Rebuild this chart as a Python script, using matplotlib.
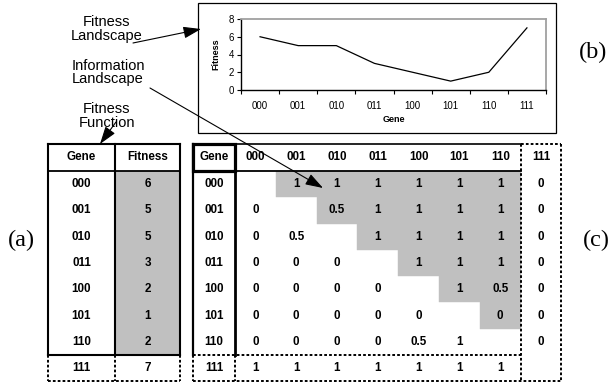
import numpy as np
import matplotlib
matplotlib.use('Agg')
import matplotlib.pyplot as plt
from matplotlib.patches import Rectangle

# ---------------- data ----------------
genes = ['000', '001', '010', '011', '100', '101', '110', '111']
fitness = [6, 5, 5, 3, 2, 1, 2, 7]
# information landscape matrix (row gene vs column gene); None = blank diagonal
info = [
    [None, 1, 1, 1, 1, 1, 1, 0],
    [0, None, 0.5, 1, 1, 1, 1, 0],
    [0, 0.5, None, 1, 1, 1, 1, 0],
    [0, 0, 0, None, 1, 1, 1, 0],
    [0, 0, 0, 0, None, 1, 0.5, 0],
    [0, 0, 0, 0, 0, None, 0, 0],
    [0, 0, 0, 0, 0.5, 1, None, 0],
    [1, 1, 1, 1, 1, 1, 1, None],
]
yticks = [0, 2, 4, 6, 8]

# ---------------- layout ----------------
W, H = 611, 388
SANS = 'Liberation Sans'
SERIF = 'Liberation Serif'
GRAY = '#c0c0c0'

fig = plt.figure(figsize=(W / 100, H / 100), dpi=100)
ax = fig.add_axes([0, 0, 1, 1])
ax.set_xlim(0, W)
ax.set_ylim(H, 0)
ax.axis('off')

TOP, HB = 144, 171
ROW_H = (355 - HB) / 7
n = len(genes)
row_edges = [HB + i * ROW_H for i in range(n + 1)]
row_centers = [(row_edges[i] + row_edges[i + 1]) / 2 for i in range(n)]
SOLID_BOT = row_edges[7]
BOT = row_edges[8]

dash = (0, (1.4, 1.1))


def hline(x0, x1, y, lw=1.3, ls='-'):
    ax.plot([x0, x1], [y, y], color='black', lw=lw, ls=ls, solid_capstyle='projecting')


def vline(x, y0, y1, lw=1.3, ls='-'):
    ax.plot([x, x], [y0, y1], color='black', lw=lw, ls=ls, solid_capstyle='projecting')


def cell_text(x, y, s):
    ax.text(x, y, s, ha='center', va='center', fontsize=8.4, weight='bold', family=SANS)


def fmt(v):
    return '' if v is None else f'{v:g}'


# ---------- left table (Fitness Function) ----------
L0, L1, L2 = 48, 115, 180
ax.add_patch(Rectangle((L1, HB), L2 - L1, SOLID_BOT - HB, facecolor=GRAY,
                       edgecolor='none', zorder=0))
hline(L0, L2, TOP, lw=1.5)
hline(L0, L2, HB, lw=1.3)
hline(L0, L2, SOLID_BOT, lw=1.5)
for x in (L0, L1, L2):
    vline(x, TOP, SOLID_BOT, lw=1.5)
    vline(x, SOLID_BOT, BOT, lw=1.4, ls=dash)
hline(L0, L2, BOT, lw=1.4, ls=dash)
cell_text((L0 + L1) / 2, (TOP + HB) / 2, 'Gene')
cell_text((L1 + L2) / 2, (TOP + HB) / 2, 'Fitness')
for i, g in enumerate(genes):
    cell_text((L0 + L1) / 2, row_centers[i], g)
    cell_text((L1 + L2) / 2, row_centers[i], str(fitness[i]))

# ---------- right table (Information Landscape) ----------
G0, G1 = 193, 235
CW = 40.8
col_edges = [G1 + j * CW for j in range(n + 1)]
col_centers = [(col_edges[j] + col_edges[j + 1]) / 2 for j in range(n)]
MAIN_R = col_edges[7]
RIGHT = col_edges[8]

# gray upper triangle (excluding the dashed 111 row/column)
for i in range(n - 2):
    ax.add_patch(Rectangle((col_edges[i + 1], row_edges[i]), MAIN_R - col_edges[i + 1],
                           ROW_H, facecolor=GRAY, edgecolor=GRAY, lw=0.3, zorder=0))

hline(G1, MAIN_R, TOP, lw=1.2)
hline(G1, MAIN_R, HB, lw=1.3)
hline(G0, MAIN_R, SOLID_BOT, lw=1.4, ls=dash)
hline(G0, RIGHT, BOT, lw=1.4, ls=dash)
hline(MAIN_R, RIGHT, TOP, lw=1.4, ls=dash)
vline(MAIN_R, TOP, BOT, lw=1.4, ls=dash)
vline(RIGHT, TOP, BOT, lw=1.4, ls=dash)
vline(G0, TOP, SOLID_BOT, lw=1.6)
vline(G1, TOP, SOLID_BOT, lw=2.0)
vline(G0, SOLID_BOT, BOT, lw=1.4, ls=dash)
vline(G1, SOLID_BOT, BOT, lw=1.4, ls=dash)
# thick Gene header box
ax.add_patch(Rectangle((G0, TOP), G1 - G0, HB - TOP, fill=False, edgecolor='black', lw=2.3))

cell_text((G0 + G1) / 2, (TOP + HB) / 2, 'Gene')
for j, g in enumerate(genes):
    cell_text(col_centers[j], (TOP + HB) / 2, g)
for i, g in enumerate(genes):
    cell_text((G0 + G1) / 2, row_centers[i], g)
    for j in range(n):
        s = fmt(info[i][j])
        if s:
            cell_text(col_centers[j], row_centers[i], s)

# ---------- line chart (Fitness Landscape) ----------
ax.add_patch(Rectangle((198, 3), 358, 130, fill=False, edgecolor='black', lw=0.9))
px0, px1, py0, py1 = 241, 546, 19, 90
cax = fig.add_axes([px0 / W, 1 - py1 / H, (px1 - px0) / W, (py1 - py0) / H])
cax.plot(range(n), fitness, color='black', lw=0.9)
cax.set_xlim(-0.5, n - 0.5)
cax.set_ylim(0, 8)
cax.set_yticks(yticks)
cax.set_xticks(range(n))
cax.set_xticklabels(genes)
cax.set_xticks(np.arange(-0.5, n, 1), minor=True)
cax.tick_params(axis='x', which='major', length=0, labelsize=7, pad=8)
cax.tick_params(axis='x', which='minor', length=3, width=0.8, direction='out')
cax.tick_params(axis='y', length=3, width=0.8, labelsize=7, pad=2)
for lab in cax.get_xticklabels() + cax.get_yticklabels():
    lab.set_family(SANS)
for s in ('top', 'right'):
    cax.spines[s].set_color('#a0a0a0')
    cax.spines[s].set_linewidth(1.3)
for s in ('left', 'bottom'):
    cax.spines[s].set_color('black')
    cax.spines[s].set_linewidth(1.0)
cax.patch.set_alpha(0)
cax.text(0.5, -(119 - py1) / (py1 - py0), 'Gene', transform=cax.transAxes, ha='center',
         va='center', fontsize=6.5, weight='bold', family=SANS)
cax.text((216 - px0) / (px1 - px0), 0.5, 'Fitness', transform=cax.transAxes, ha='center',
         va='center', rotation=90, fontsize=6.5, weight='bold', family=SANS)

# ---------- labels and arrows ----------
def label(x, y, s):
    ax.text(x, y, s, ha='center', va='center', fontsize=10.5, family=SANS, linespacing=0.98)


label(107, 29, 'Fitness\nLandscape')
label(108, 72.5, 'Information\nLandscape')
label(107, 116, 'Fitness\nFunction')

ap = dict(arrowstyle='-|>,head_length=0.9,head_width=0.3', color='black', lw=0.8,
          shrinkA=0, shrinkB=0, mutation_scale=12)
ax.annotate('', xy=(201, 29), xytext=(133, 43), arrowprops=ap)
ax.annotate('', xy=(323, 188), xytext=(150, 88), arrowprops=ap)
ax.annotate('', xy=(100, 144), xytext=(116, 122), arrowprops=ap)

ax.text(21, 240, '(a)', ha='center', va='center', fontsize=17.5, family=SERIF)
ax.text(593, 52, '(b)', ha='center', va='center', fontsize=17.5, family=SERIF)
ax.text(596, 240, '(c)', ha='center', va='center', fontsize=17.5, family=SERIF)

fig.savefig('out.png', dpi=100)
